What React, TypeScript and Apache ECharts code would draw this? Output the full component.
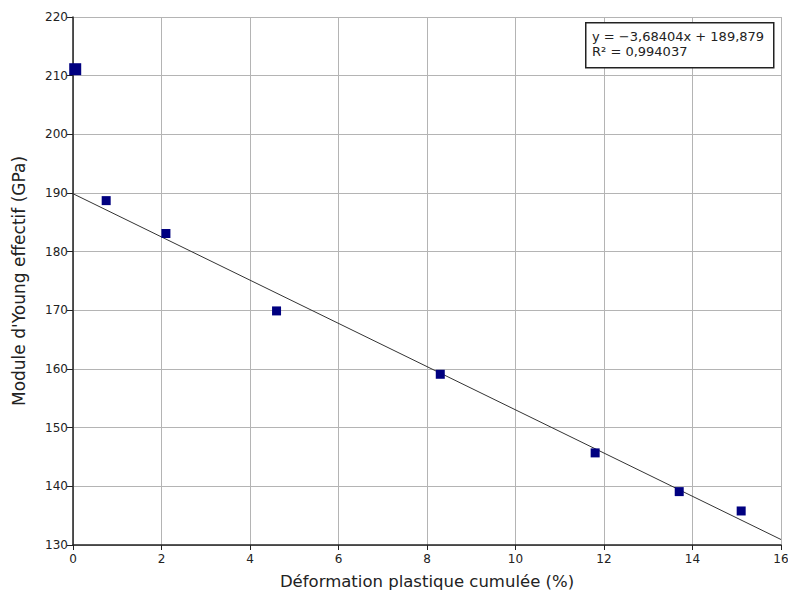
import React, { useEffect, useRef } from "react";
import * as echarts from "echarts";

const strainMain: number[] = [0.75, 2.1, 4.6, 8.3, 11.8, 13.7, 15.1];
const modulusMain: number[] = [188.7, 183.1, 169.9, 159.1, 145.7, 139.1, 135.8];
const strainFirst: number[] = [0.05];
const modulusFirst: number[] = [211.1];
const fitX: number[] = [0, 16];
const fitY: number[] = [189.879, 130.934];
const fitLabelLines: string[] = ["y = \u22123,68404x + 189,879", "R\u00b2 = 0,994037"];

export default function App() {
  const ref = useRef<HTMLDivElement>(null);
  useEffect(() => {
    if (!ref.current) return;
    const chart = echarts.init(ref.current, null, { renderer: "svg" });
    const font = "'DejaVu Sans', Verdana, sans-serif";
    chart.setOption({
      animation: false,
      backgroundColor: "#ffffff",
      textStyle: { fontFamily: font },
      grid: { left: 73, right: 7, top: 17, bottom: 48, containLabel: false, outerBoundsMode: "none" },
      xAxis: {
        type: "value",
        min: 0,
        max: 16,
        interval: 2,
        name: "Déformation plastique cumulée (%)",
        nameLocation: "middle",
        nameGap: 28,
        nameTextStyle: { fontSize: 16.5, color: "#222", fontFamily: font },
        axisLine: { show: true, onZero: false, lineStyle: { color: "#222", width: 1.5 } },
        axisTick: { show: true, length: 5, lineStyle: { color: "#222" } },
        axisLabel: { fontSize: 12, color: "#222", margin: 8, fontFamily: font },
        splitLine: { show: true, lineStyle: { color: "#b4b4b4", width: 1 } },
      },
      yAxis: {
        type: "value",
        min: 130,
        max: 220,
        interval: 10,
        name: "Module d'Young effectif (GPa)",
        nameLocation: "middle",
        nameGap: 46,
        nameRotate: 90,
        nameTextStyle: { fontSize: 17, color: "#222", fontFamily: font },
        axisLine: { show: true, onZero: false, lineStyle: { color: "#222", width: 1.5 } },
        axisTick: { show: true, length: 6, lineStyle: { color: "#222" } },
        axisLabel: { fontSize: 12, color: "#222", margin: 5, fontFamily: font },
        splitLine: { show: true, lineStyle: { color: "#b4b4b4", width: 1 } },
      },
      series: [
        {
          type: "line",
          data: fitX.map((x, i) => [x, fitY[i]]),
          showSymbol: false,
          symbol: "none",
          lineStyle: { color: "#333", width: 1 },
          z: 2,
          silent: true,
        },
        {
          type: "scatter",
          data: strainMain.map((x, i) => [x, modulusMain[i]]),
          symbol: "rect",
          symbolSize: 9,
          itemStyle: { color: "#000080", opacity: 1 },
          z: 3,
        },
        {
          type: "scatter",
          data: strainFirst.map((x, i) => [x, modulusFirst[i]]),
          symbol: "rect",
          symbolSize: 12,
          itemStyle: { color: "#000080", opacity: 1 },
          z: 3,
        },
      ],
      graphic: [
        {
          type: "rect",
          left: 585,
          top: 22,
          shape: { width: 188, height: 45 },
          style: { fill: "#ffffff", stroke: "#222", lineWidth: 1.5 },
          z: 10,
        },
        {
          type: "text",
          left: 592,
          top: 29,
          style: {
            text: fitLabelLines.join("\n"),
            fontSize: 13,
            lineHeight: 15,
            fill: "#222",
            fontFamily: font,
          },
          z: 11,
        },
      ],
    });
    return () => chart.dispose();
  }, []);
  return <div ref={ref} style={{ width: 788, height: 593, position: "absolute", left: 0, top: 0 }} />;
}
